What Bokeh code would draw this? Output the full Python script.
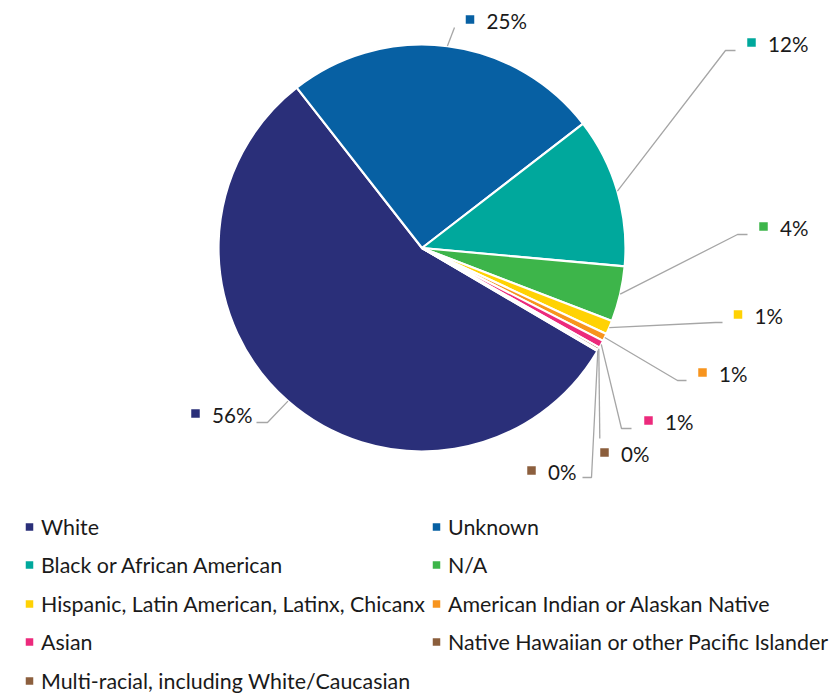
import math
from bokeh.plotting import figure
from bokeh.models import Range1d, ColumnDataSource
from bokeh.core.properties import value
from bokeh.embed import file_html
from bokeh.resources import INLINE

# ---- data ----
categories = [
    "White",
    "Unknown",
    "Black or African American",
    "N/A",
    "Hispanic, Latin American, Latinx, Chicanx",
    "American Indian or Alaskan Native",
    "Asian",
    "Native Hawaiian or other Pacific Islander",
    "Multi-racial, including White/Caucasian",
]
shares = [56.0, 25.1, 11.9, 4.4, 1.1, 0.6, 0.6, 0.2, 0.1]
colors = ["#2a2f79", "#0760a3", "#00a89c", "#3db54a", "#ffd204",
          "#f7941e", "#ec2a7c", "#8b5e3c", "#8c5f3e"]

# ---- layout (picture pixel coordinates) ----
PAGE_W, PAGE_H = 830, 696
def Y(y):
    return PAGE_H - y

CX, CY, R = 421.5, 247.5, 203.5
FIRST_ANGLE = 120.4  # degrees clockwise from 12 o'clock

label_sq = [(195, 413), (469.5, 19), (751, 42), (763, 226), (737.5, 314),
            (702, 372), (648, 420), (604, 452), (531, 470)]
leader_tail = [
    [(267, 422), (256, 422)],
    [(454, 27)],
    [(725, 50), (735, 50)],
    [(737, 234), (747, 234)],
    [(715, 322), (722, 322)],
    [(677, 380), (686, 380)],
    [(621, 428), (631, 428)],
    [(599.3, 438)],
    [(591, 477), (582, 477)],
]

total = sum(shares)
starts, ends, mids = [], [], []
acc = FIRST_ANGLE
for v in shares:
    d = v / total * 360.0
    starts.append(acc)
    ends.append(acc + d)
    mids.append(acc + d / 2)
    acc += d

p = figure(width=PAGE_W, height=PAGE_H, x_range=Range1d(0, PAGE_W),
           y_range=Range1d(0, PAGE_H),
           output_backend="svg", toolbar_location=None, min_border=0)
p.axis.visible = False
p.grid.visible = False
p.outline_line_color = None
p.background_fill_color = "white"
p.border_fill_color = "white"

src = ColumnDataSource(dict(
    start=[math.radians(90 - a) for a in starts],
    end=[math.radians(90 - a) for a in ends],
    color=colors,
    cat=categories,
))
p.wedge(x=CX, y=Y(CY), radius=R, start_angle="start", end_angle="end",
        direction="clock", fill_color="color", line_color="white",
        line_width=2.2, source=src)

# leader lines
xs, ys = [], []
for m, tail in zip(mids, leader_tail):
    ex = CX + R * math.sin(math.radians(m))
    ey = CY - R * math.cos(math.radians(m))
    pts = [(ex, ey)] + tail
    xs.append([q[0] for q in pts])
    ys.append([Y(q[1]) for q in pts])
p.multi_line(xs=xs, ys=ys, line_color="#a6a6a6", line_width=1.3)

# data labels
pct = [f"{v / total * 100:.0f}%" for v in shares]
p.scatter(x=[s[0] for s in label_sq], y=[Y(s[1]) for s in label_sq],
          marker="square", size=8.5, fill_color=colors, line_color=None)
p.text(x=[s[0] + 16.5 for s in label_sq], y=[Y(s[1] + 1.5) for s in label_sq],
       text=pct, text_font=value("Lato"), text_font_size="20.6px",
       text_baseline="middle", text_align="left", text_color="#1a1a1a")

# legend (two columns)
row_y = [526, 564, 603, 641, 680]
col_x = [29, 436]
lx, ly = [], []
for i in range(len(categories)):
    lx.append(col_x[i % 2])
    ly.append(row_y[i // 2])
p.scatter(x=lx, y=[Y(v + 0.5) for v in ly], marker="square", size=7.5,
          fill_color=colors, line_color=None)
p.text(x=[v + 11.5 for v in lx], y=[Y(v + 0.5) for v in ly], text=categories,
       text_font=value("Lato"), text_font_size="21.4px",
       text_baseline="middle", text_align="left", text_color="#1a1a1a")

open("out.html", "w").write(file_html(p, INLINE))
